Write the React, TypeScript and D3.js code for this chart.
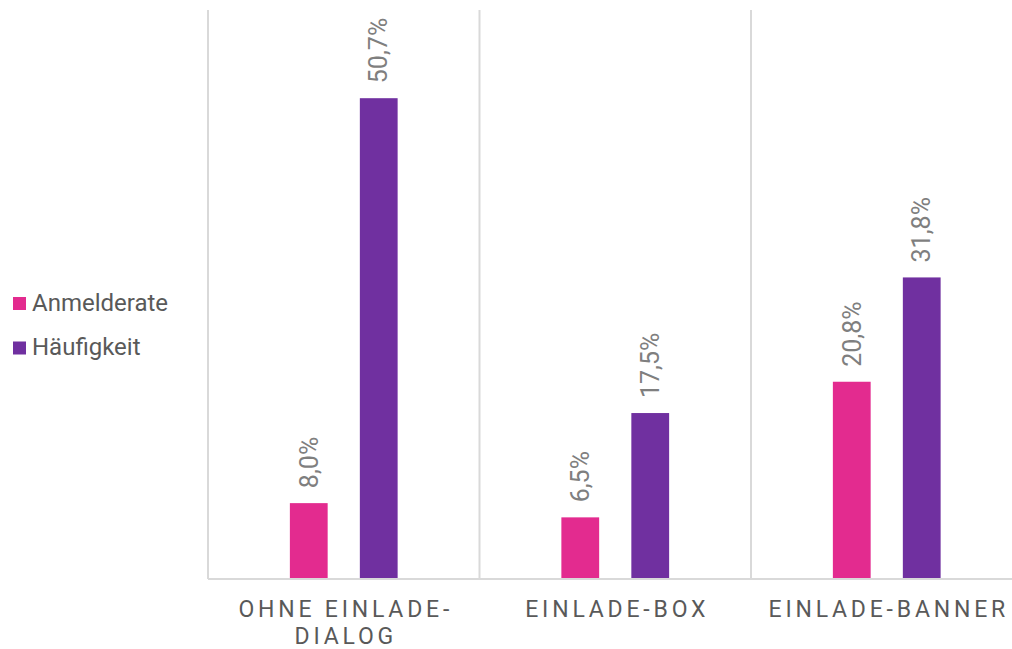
import React from 'react';
import * as d3 from 'd3';

const categories = [['OHNE EINLADE-', 'DIALOG'], ['EINLADE-BOX'], ['EINLADE-BANNER']];
const seriesNames = ['Anmelderate', 'Häufigkeit'];
const anmelderate = [8.0, 6.5, 20.8];
const haeufigkeit = [50.7, 17.5, 31.8];
const colors = ['#E32B8F', '#7030A0'];

const W = 1012;
const H = 649;

const App = () => {
    const x = d3.scaleBand<number>()
        .domain(d3.range(categories.length))
        .range([208, 1022.5])
        .padding(0);
    const inner = d3.scaleBand<number>()
        .domain([0, 1])
        .range([0, x.bandwidth()])
        .paddingInner(0.46)
        .paddingOuter(1.17);
    const y = d3.scaleLinear().domain([0, 60]).range([579, 10]);
    const values = [anmelderate, haeufigkeit];
    const fmt = (v: number) => v.toFixed(1).replace('.', ',') + '%';

    return (
        <svg width={W} height={H} style={{ position: 'absolute', left: 0, top: 0, fontFamily: 'Roboto, sans-serif' }}>
            {/* gridlines between categories */}
            {d3.range(categories.length + 1).map(i => {
                const gx = i < categories.length ? x(i)! : x(categories.length - 1)! + x.bandwidth();
                return <line key={i} x1={gx} x2={gx} y1={y(60)} y2={y(0)} stroke="#d9d9d9" strokeWidth={2} />;
            })}
            {values.map((vals, s) =>
                vals.map((v, i) => {
                    const bx = x(i)! + inner(s)!;
                    const cx = bx + inner.bandwidth() / 2;
                    return (
                        <g key={s + '-' + i}>
                            <rect x={bx} y={y(v)} width={inner.bandwidth()} height={y(0) - y(v)} fill={colors[s]} />
                            <text
                                transform={`translate(${cx},${y(v) - 15}) rotate(-90)`}
                                dy="0.35em"
                                fontSize={25}
                                fill="#7f7f7f"
                                textAnchor="start"
                            >
                                {fmt(v)}
                            </text>
                        </g>
                    );
                })
            )}
            <line x1={208} x2={W} y1={y(0)} y2={y(0)} stroke="#d9d9d9" strokeWidth={2} />
            {categories.map((lines, i) => (
                <text key={i} x={x(i)! + x.bandwidth() / 2 + 2} y={617} textAnchor="middle"
                    fontSize={23} letterSpacing={3.8} fill="#595959">
                    {lines.map((l, j) => (
                        <tspan key={j} x={x(i)! + x.bandwidth() / 2 + 2} dy={j === 0 ? 0 : 27}>{l}</tspan>
                    ))}
                </text>
            ))}
            {seriesNames.map((n, s) => (
                <g key={n} transform={`translate(13,${297 + s * 44.5})`}>
                    <rect width={13} height={13} fill={colors[s]} />
                    <text x={19} y={13.5} fontSize={24} fill="#595959">{n}</text>
                </g>
            ))}
        </svg>
    );
};

export default App;
